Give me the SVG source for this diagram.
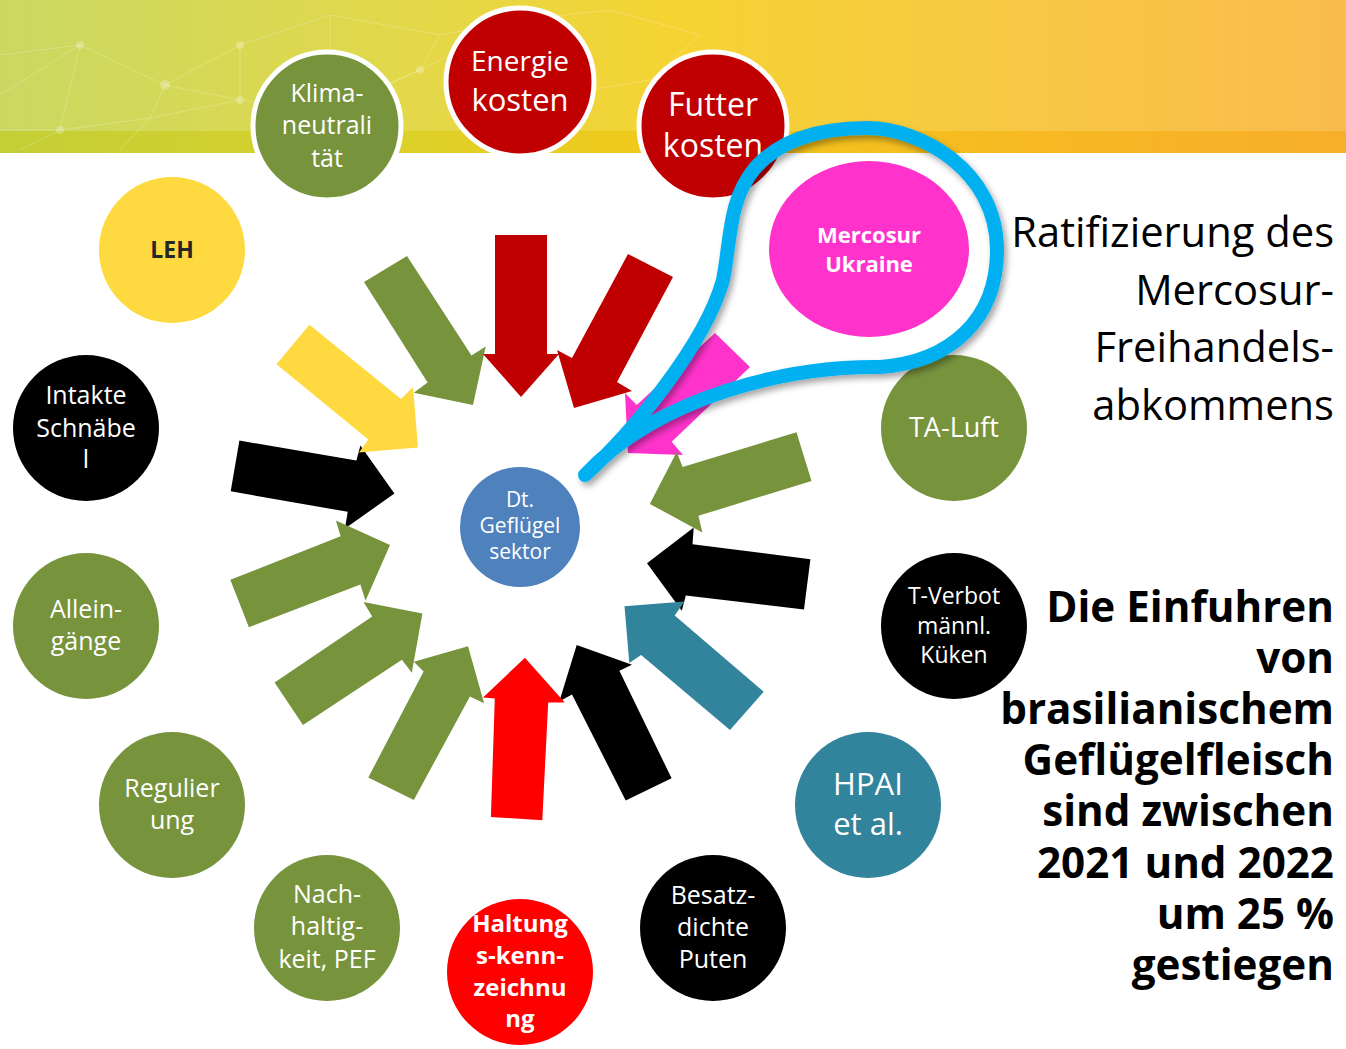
<svg xmlns="http://www.w3.org/2000/svg" width="1346" height="1049" viewBox="0 0 1346 1049">
  <defs>
    <linearGradient id="bannerTop" x1="0" y1="0" x2="1" y2="0">
      <stop offset="0" stop-color="#cad862"/>
      <stop offset="0.3" stop-color="#e2d84a"/>
      <stop offset="0.5" stop-color="#f5d332"/>
      <stop offset="0.75" stop-color="#f8c844"/>
      <stop offset="1" stop-color="#f9bc4c"/>
    </linearGradient>
    <linearGradient id="bannerStrip" x1="0" y1="0" x2="1" y2="0">
      <stop offset="0" stop-color="#c3cf36"/>
      <stop offset="0.3" stop-color="#dcd12a"/>
      <stop offset="0.5" stop-color="#f3c81a"/>
      <stop offset="0.75" stop-color="#f6ba22"/>
      <stop offset="1" stop-color="#f7ae2b"/>
    </linearGradient>
    <filter id="shadow" x="-10%" y="-10%" width="130%" height="130%">
      <feDropShadow dx="3" dy="4" stdDeviation="3" flood-color="#000" flood-opacity="0.35"/>
    </filter>
    <style>
      .t { font-family: "Open Sans", "Noto Sans", "Liberation Sans", sans-serif; text-anchor: middle; fill: #ffffff; }
      .b { font-weight: bold; }
      .rt { font-family: "Open Sans", "Noto Sans", "Liberation Sans", sans-serif; text-anchor: end; fill: #000000; }
      .green { fill: #77933c; }
      .dred { fill: #c00000; }
      .red { fill: #ff0000; }
      .blk { fill: #000000; }
      .yel { fill: #ffd940; }
      .teal { fill: #31849b; }
      .mag { fill: #ff33cc; }
      .ring { stroke: #ffffff; stroke-width: 5; }
      .net { stroke: #ffffff; stroke-opacity: 0.22; stroke-width: 1; fill: none; }
      .dot { fill: #ffffff; fill-opacity: 0.25; }
    </style>
  </defs>

  <rect x="0" y="0" width="1346" height="1049" fill="#ffffff"/>

  <g id="banner">
    <rect x="0" y="0" width="1346" height="131" fill="url(#bannerTop)"/>
    <rect x="0" y="131" width="1346" height="22" fill="url(#bannerStrip)"/>
    <g class="net">
      <path d="M0,55 L80,45 L165,85 L240,45 L330,15 L440,35 L520,20 L610,10 L700,35"/>
      <path d="M0,130 L60,130 L150,118 L240,100 L330,110 L420,70 L500,30"/>
      <path d="M80,45 L60,130 M165,85 L150,118 M165,85 L240,100 M240,45 L240,100 M330,15 L330,110 M440,35 L420,70 M420,70 L330,110 M520,20 L560,95 L650,80 L700,35"/>
      <path d="M0,95 L80,45 M20,150 L60,130 M150,118 L120,150 M330,110 L380,150 M560,95 L520,150 M650,80 L700,140"/>
    </g>
    <circle class="dot" cx="80" cy="45" r="4"/>
    <circle class="dot" cx="165" cy="85" r="5"/>
    <circle class="dot" cx="60" cy="130" r="4"/>
    <circle class="dot" cx="240" cy="45" r="4"/>
    <circle class="dot" cx="240" cy="100" r="4"/>
    <circle class="dot" cx="330" cy="110" r="4"/>
    <circle class="dot" cx="420" cy="70" r="4"/>
    <circle class="dot" cx="560" cy="95" r="4"/>
  </g>

  <g id="connectors">
    <polygon class="blk" points="239.4,440.6 356.4,460.4 360.4,445.4 394.4,493.6 345,528.4 347.7,511.8 230.7,491.3"/>
    <polygon class="yel" points="309.4,324.8 401,399 413,387 418,447.4 359,452.5 368.3,439.5 276.5,364.3"/>
    <polygon class="green" points="407,256 471.5,355.6 485.7,346.5 473,405 413.8,392.8 427.6,382.5 364,282"/>
    <polygon class="dred" points="495,235 495,354 483,354 521,397 559,354 547,354 547,235"/>
    <polygon class="dred" points="628,254 572,358 557,350 574,408 632,391 617,382 673,277"/>
    <polygon class="mag" points="715,333 636.7,405 625,393 628,453 683,455 671.7,441.7 750,367"/>
    <polygon class="green" points="796.5,432.3 682.6,467 676.7,452.1 649.8,503.9 702.4,532.4 698.4,515.8 811.5,481"/>
    <polygon class="blk" points="810.4,559.3 692.5,544.2 693.7,527.6 647,563.2 681.8,610.7 685.8,595.6 804,609.5"/>
    <polygon class="teal" points="730,730 641.1,655 629.3,662.9 624.5,606.3 684.6,601.6 674.7,615.4 763.7,691.7"/>
    <polygon class="blk" points="625.7,800.5 572,694.5 559.3,701.6 576.7,645 632,664.8 619.4,670.8 671.6,778.3"/>
    <polygon class="red" points="490.9,817 494.8,698.4 483,697.6 524.9,657.7 564.8,702.4 548.2,702.4 542.3,820.2"/>
    <polygon class="green" points="368.3,777.5 423.6,671.6 413.8,661.7 468,646.2 484.1,703.2 469.9,696.5 413.8,800"/>
    <polygon class="green" points="274.6,682.6 372.2,616.6 363.5,602 422.4,613.4 411.8,672.7 401.9,659.7 303,725"/>
    <polygon class="green" points="230.3,579.8 340.6,536.3 335.9,520.5 390,545 365.5,600.8 360.4,584.6 248.9,627.3"/>
  </g>

  <g id="node-center">
    <circle cx="520" cy="527" r="60" fill="#4f81bd"/>
    <text class="t" font-size="21"><tspan x="520" y="507">Dt.</tspan><tspan x="520" y="533">Geflügel</tspan><tspan x="520" y="559">sektor</tspan></text>
  </g>

  <g id="node-klima">
    <circle class="green ring" cx="327" cy="126" r="74"/>
    <text class="t" font-size="25"><tspan x="327" y="102">Klima-</tspan><tspan x="327" y="134">neutrali</tspan><tspan x="327" y="167">tät</tspan></text>
  </g>
  <g id="node-energie">
    <circle class="dred ring" cx="520" cy="82" r="74"/>
    <text class="t"><tspan x="520" y="71" font-size="28">Energie</tspan><tspan x="520" y="111" font-size="31">kosten</tspan></text>
  </g>
  <g id="node-futter">
    <circle class="dred ring" cx="713" cy="126" r="74"/>
    <text class="t" font-size="32"><tspan x="713" y="116">Futter</tspan><tspan x="713" y="157">kosten</tspan></text>
  </g>
  <g id="node-mercosur">
    <ellipse class="mag" cx="869" cy="249" rx="100" ry="88"/>
    <text class="t b" font-size="22"><tspan x="869" y="243">Mercosur</tspan><tspan x="869" y="272">Ukraine</tspan></text>
  </g>
  <g id="node-taluft">
    <circle class="green" cx="954" cy="428" r="73"/>
    <text class="t" font-size="27" x="954" y="437">TA-Luft</text>
  </g>
  <g id="node-tverbot">
    <circle class="blk" cx="954" cy="626" r="73"/>
    <text class="t" font-size="23"><tspan x="954" y="604">T-Verbot</tspan><tspan x="954" y="634">männl.</tspan><tspan x="954" y="663">Küken</tspan></text>
  </g>
  <g id="node-hpai">
    <circle class="teal" cx="868" cy="805" r="73"/>
    <text class="t" font-size="31"><tspan x="868" y="795">HPAI</tspan><tspan x="868" y="835">et al.</tspan></text>
  </g>
  <g id="node-besatz">
    <circle class="blk" cx="713" cy="928" r="73"/>
    <text class="t" font-size="25"><tspan x="713" y="904">Besatz-</tspan><tspan x="713" y="936">dichte</tspan><tspan x="713" y="968">Puten</tspan></text>
  </g>
  <g id="node-haltung">
    <circle class="red" cx="520" cy="972" r="73"/>
    <text class="t b" font-size="24"><tspan x="520" y="932">Haltung</tspan><tspan x="520" y="964">s-kenn-</tspan><tspan x="520" y="996">zeichnu</tspan><tspan x="520" y="1027">ng</tspan></text>
  </g>
  <g id="node-nachhaltigkeit">
    <circle class="green" cx="327" cy="928" r="73"/>
    <text class="t" font-size="25"><tspan x="327" y="903">Nach-</tspan><tspan x="327" y="935">haltig-</tspan><tspan x="327" y="968">keit, PEF</tspan></text>
  </g>
  <g id="node-regulierung">
    <circle class="green" cx="172" cy="805" r="73"/>
    <text class="t" font-size="25"><tspan x="172" y="797">Regulier</tspan><tspan x="172" y="829">ung</tspan></text>
  </g>
  <g id="node-alleingaenge">
    <circle class="green" cx="86" cy="626" r="73"/>
    <text class="t" font-size="25"><tspan x="86" y="618">Allein-</tspan><tspan x="86" y="650">gänge</tspan></text>
  </g>
  <g id="node-schnaebel">
    <circle class="blk" cx="86" cy="428" r="73"/>
    <text class="t" font-size="25"><tspan x="86" y="404">Intakte</tspan><tspan x="86" y="437">Schnäbe</tspan><tspan x="86" y="468">l</tspan></text>
  </g>
  <g id="node-leh">
    <circle class="yel" cx="172" cy="250" r="73"/>
    <text class="t b" font-size="23" x="172" y="258" style="fill:#262626">LEH</text>
  </g>

  <g id="callout">
    <path d="M585,475 C630,435 705,345 723,280 C731,240 728,200 755,168 C780,140 820,128 867,128 C920,128 997,170 997,250 C997,320 950,362 880,367 C790,366 660,395 585,475" fill="none" stroke="#00b0f0" stroke-width="14" stroke-linecap="round" stroke-linejoin="round" filter="url(#shadow)"/>
  </g>

  <g id="text-ratifizierung">
    <text class="rt" font-size="41.7"><tspan x="1334" y="247">Ratifizierung des</tspan><tspan x="1334" y="305">Mercosur-</tspan><tspan x="1334" y="362">Freihandels-</tspan><tspan x="1334" y="420">abkommens</tspan></text>
  </g>
  <g id="text-einfuhren">
    <text class="rt b" font-size="42.2"><tspan x="1334" y="622">Die Einfuhren</tspan><tspan x="1334" y="673">von</tspan><tspan x="1334" y="724">brasilianischem</tspan><tspan x="1334" y="775">Geflügelfleisch</tspan><tspan x="1334" y="826">sind zwischen</tspan><tspan x="1334" y="878">2021 und 2022</tspan><tspan x="1334" y="929">um 25 %</tspan><tspan x="1334" y="980">gestiegen</tspan></text>
  </g>
</svg>
